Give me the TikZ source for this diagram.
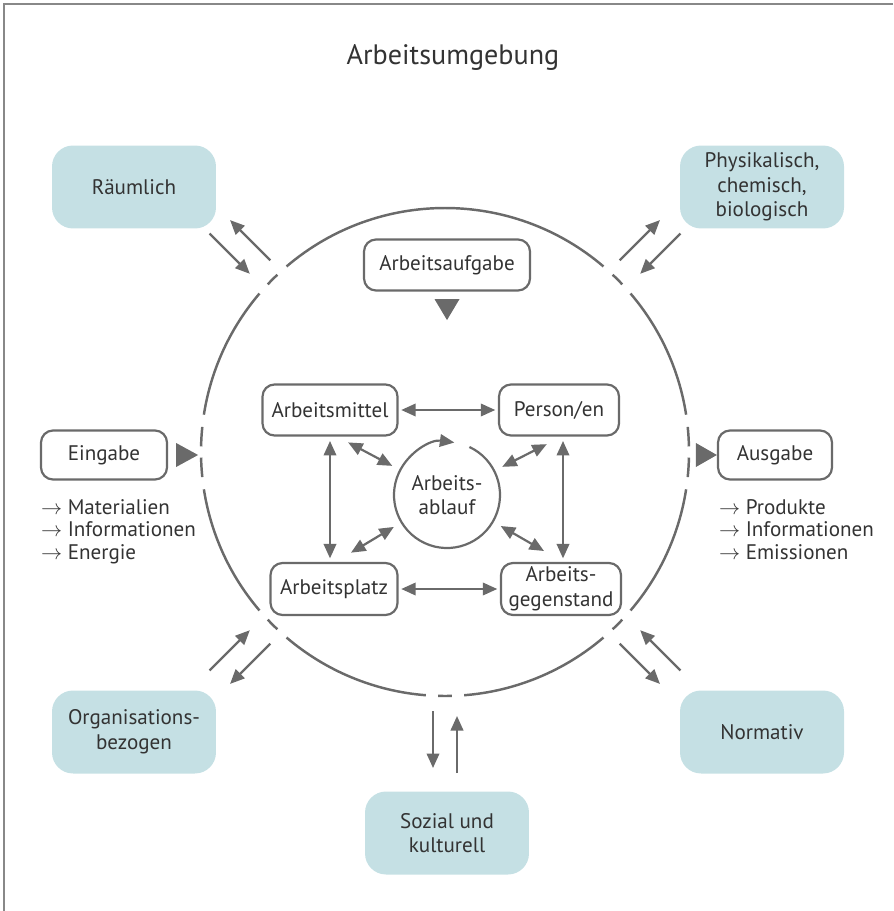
\documentclass[tikz,border=0pt]{standalone}
\usepackage{fontspec}
\setmainfont{PT Sans}
\usetikzlibrary{arrows.meta,calc}
\definecolor{linie}{HTML}{6A6A6A}
\definecolor{schrift}{HTML}{333333}
\definecolor{tuerkis}{HTML}{C5E0E4}
\begin{document}
\begin{tikzpicture}[x=0.02cm, y=0.02cm, line width=1.25pt,
  every node/.style={font=\fontsize{12}{14}\selectfont, text=schrift, align=center},
  kasten/.style={draw=linie, rounded corners=0.24cm, minimum height=1.02cm, inner sep=2pt},
  feld/.style={fill=tuerkis, rounded corners=0.42cm, minimum width=3.28cm, minimum height=1.66cm},
  pfeil/.style={draw=linie, -{Triangle[length=0.29cm, width=0.25cm]}},
  doppel/.style={draw=linie, {Triangle[length=0.29cm, width=0.25cm]}-{Triangle[length=0.29cm, width=0.25cm]}},
  liste/.style={anchor=north west, align=left, inner sep=0pt, font=\fontsize{12}{13}\selectfont}]
  \useasboundingbox (0,0) rectangle (893,-911);
  \draw[linie!80, line width=0.8pt] (893,-4) -- (4,-4) -- (4,-911);
  \node (titel) at (453,-57) {\fontsize{16}{18}\selectfont Arbeitsumgebung};
  % Umgebungsfaktoren
  \node[feld] (raum) at (134,-187) {Räumlich};
  \node[feld] (physik) at (762,-187) {Physikalisch,\\chemisch,\\biologisch};
  \node[feld] (orga) at (134,-732) {Organisations-\\bezogen};
  \node[feld] (norm) at (762,-732) {Normativ};
  \node[feld] (sozial) at (447,-833) {Sozial und\\kulturell};
  % grosser Kreis mit Luecken
  \coordinate (m) at (445,-452);
  \foreach \a/\b in {8.8/40.5, 49.5/130.5, 139.5/171.2, 188.8/220.5, 229.5/265.5, 274.5/310.5, 319.5/351.2}
    \draw[linie, line width=1.4pt] ($(m)+(\a:244)$) arc[start angle=\a, end angle=\b, radius=244];
  \foreach \a in {45,135,225,270,315}
    \draw[linie, line width=1.4pt] ($(m)+(\a-1.6:244)$) arc[start angle=\a-1.6, end angle=\a+1.6, radius=244];
  \foreach \a in {0,180} \foreach \s in {-1,1}
    \draw[linie, line width=1.4pt] ($(m)+(\a+\s*1.3:244)$) arc[start angle=\a+\s*1.3, end angle=\a+\s*5.9, radius=244];
  \foreach \a/\s in {135/1, 45/-1, 225/-1, 315/1, 270/1} {
    \draw[pfeil] ($(m)+(\a:321)+(\a+90:\s*12)$) -- ($(m)+(\a:264)+(\a+90:\s*12)$);
    \draw[pfeil] ($(m)+(\a:259)+(\a-90:\s*12)$) -- ($(m)+(\a:316)+(\a-90:\s*12)$);
  }
  % Eingabe und Ausgabe
  \node[kasten, minimum width=2.52cm, minimum height=0.98cm] (eingabe) at (104,-455) {Eingabe};
  \node[kasten, minimum width=2.28cm, minimum height=0.98cm] (ausgabe) at (775,-455) {Ausgabe};
  \fill[linie] ($(eingabe.east)+(8,12)$) -- ++(0,-24) -- ++(22,12) -- cycle;
  \fill[linie] ($(ausgabe.west)+(-21,12)$) -- ++(0,-24) -- ++(21,12) -- cycle;
  \node[liste] (einliste) at (40,-498) {$\to$ Materialien\\$\to$ Informationen\\$\to$ Energie};
  \node[liste] (ausliste) at (718,-498) {$\to$ Produkte\\$\to$ Informationen\\$\to$ Emissionen};
  % Arbeitssystem
  \node[kasten, minimum width=3.32cm] (aufgabe) at (447,-265) {Arbeitsaufgabe};
  \fill[linie] ($(aufgabe.south)+(-12.5,-7.5)$) -- ++(25,0) -- ++(-12.5,-21) -- cycle;
  \node[kasten, minimum width=2.7cm] (mittel) at (330,-410) {Arbeitsmittel};
  \node[kasten, minimum width=2.4cm] (person) at (559,-410) {Person/en};
  \node[kasten, minimum width=2.54cm, minimum height=1.04cm] (platz) at (334,-589) {Arbeitsplatz};
  \node[kasten, minimum width=2.4cm, minimum height=1.04cm] (gegenstand) at (561,-589) {Arbeits-\\gegenstand};
  \node[circle, minimum size=2.12cm, inner sep=0pt, outer sep=0pt] (ablauf) at (447,-495) {Arbeits-\\ablauf};
  \draw[pfeil] (ablauf.65) arc[start angle=65, end angle=-278, radius=53];
  \draw[doppel, shorten <=1.5pt, shorten >=1.5pt] (mittel) -- (person);
  \draw[doppel, shorten <=1.5pt, shorten >=1.5pt] (platz) -- (gegenstand);
  \draw[doppel, shorten <=2.5pt, shorten >=2pt] (mittel.south) -- (mittel.south |- platz.north);
  \draw[doppel, shorten <=2.5pt, shorten >=2pt] ($(person.south)+(4,0)$) -- ($(gegenstand.north)+(2,0)$);
  \foreach \a in {152,27,211,330}
    \draw[doppel] ($(ablauf)+(\a:62)$) -- ($(ablauf)+(\a:112)$);
\end{tikzpicture}
\end{document}
